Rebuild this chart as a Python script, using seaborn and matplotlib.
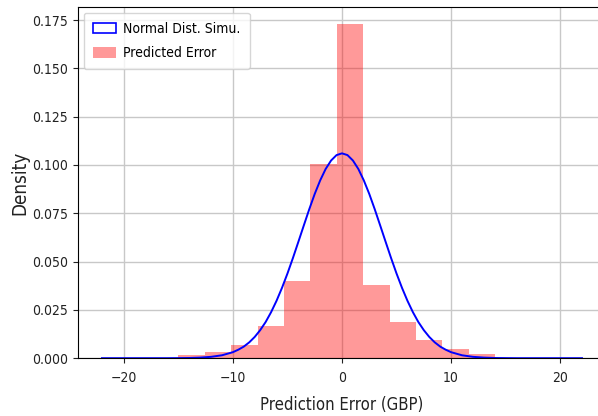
import matplotlib
matplotlib.use("Agg")
import matplotlib.pyplot as plt
from matplotlib.patches import Patch
import seaborn as sns

# histogram of prediction errors
bin_edges = [-15.0, -12.58, -10.16, -7.74, -5.32, -2.90, -0.48, 1.94, 4.36, 6.78, 9.20, 11.62, 14.04]
bin_centers = [-13.79, -11.37, -8.95, -6.53, -4.11, -1.69, 0.73, 3.15, 5.57, 7.99, 10.41, 12.83]
bin_density = [0.0015, 0.0030, 0.0067, 0.0165, 0.0400, 0.1007, 0.1730, 0.0377, 0.0186, 0.0093, 0.0046, 0.0020]

# normal curve ("Normal Dist. Simu.")
curve_x = [-22, -21, -20, -19, -18, -17, -16, -15, -14, -13, -12, -11, -10,
           -9.5, -9, -8.5, -8, -7.5, -7, -6.5, -6, -5.5, -5, -4.5, -4, -3.5, -3,
           -2.5, -2, -1.5, -1, -0.5, 0, 0.5, 1, 1.5, 2, 2.5, 3, 3.5, 4, 4.5, 5,
           5.5, 6, 6.5, 7, 7.5, 8, 8.5, 9, 9.5,
           10, 11, 12, 13, 14, 15, 16, 17, 18, 19, 20, 21, 22]
curve_y = [0.0, 0.0, 0.0, 0.0, 0.0, 0.0, 0.0, 0.00004, 0.0001, 0.0003, 0.0007, 0.0015, 0.0031,
           0.0044, 0.0060, 0.0082, 0.0110, 0.0145, 0.0187, 0.0238, 0.0297, 0.0364, 0.0438, 0.0518, 0.0602, 0.0687, 0.0771,
           0.0850, 0.0920, 0.0979, 0.1023, 0.1051, 0.1060, 0.1051, 0.1023, 0.0979, 0.0920, 0.0850, 0.0771, 0.0687, 0.0602, 0.0518, 0.0438,
           0.0364, 0.0297, 0.0238, 0.0187, 0.0145, 0.0110, 0.0082, 0.0060, 0.0044,
           0.0031, 0.0015, 0.0007, 0.0003, 0.0001, 0.00004, 0.0, 0.0, 0.0, 0.0, 0.0, 0.0, 0.0]

plt.rcParams['font.family'] = ['DejaVu Sans']
plt.rcParams['font.stretch'] = 'condensed'

fig = plt.figure(figsize=(5.98, 4.16), dpi=100)
ax = fig.add_axes([0.1304, 0.139, 0.883, 0.844])

sns.histplot(x=bin_centers, weights=bin_density, bins=bin_edges, stat="count",
             color="red", alpha=0.4, linewidth=0, ax=ax)
sns.lineplot(x=curve_x, y=curve_y, color="blue", linewidth=1.4, ax=ax)

ax.set_xlim(-24.2, 24.2)
ax.set_ylim(0, 0.1817)
ax.grid(True, color="#c8c8c8", linewidth=1)
ax.set_axisbelow(True)
ax.tick_params(labelsize=10, colors="#222222")
ax.tick_params(axis="x", pad=5.5)
ax.set_xlabel("Prediction Error (GBP)", fontsize=12, color="#222222", labelpad=8)
ax.set_ylabel("Density", fontsize=13.5, color="#222222", labelpad=2)

handles = [Patch(facecolor="none", edgecolor="blue", linewidth=1.2),
           Patch(facecolor="red", alpha=0.4, linewidth=0)]
ax.legend(handles, ["Normal Dist. Simu.", "Predicted Error"], loc="upper left",
          fontsize=10, labelspacing=0.75, borderpad=0.65, borderaxespad=0.4,
          handlelength=1.7, handletextpad=0.5, handleheight=0.8)

plt.savefig("out.png", dpi=100)
